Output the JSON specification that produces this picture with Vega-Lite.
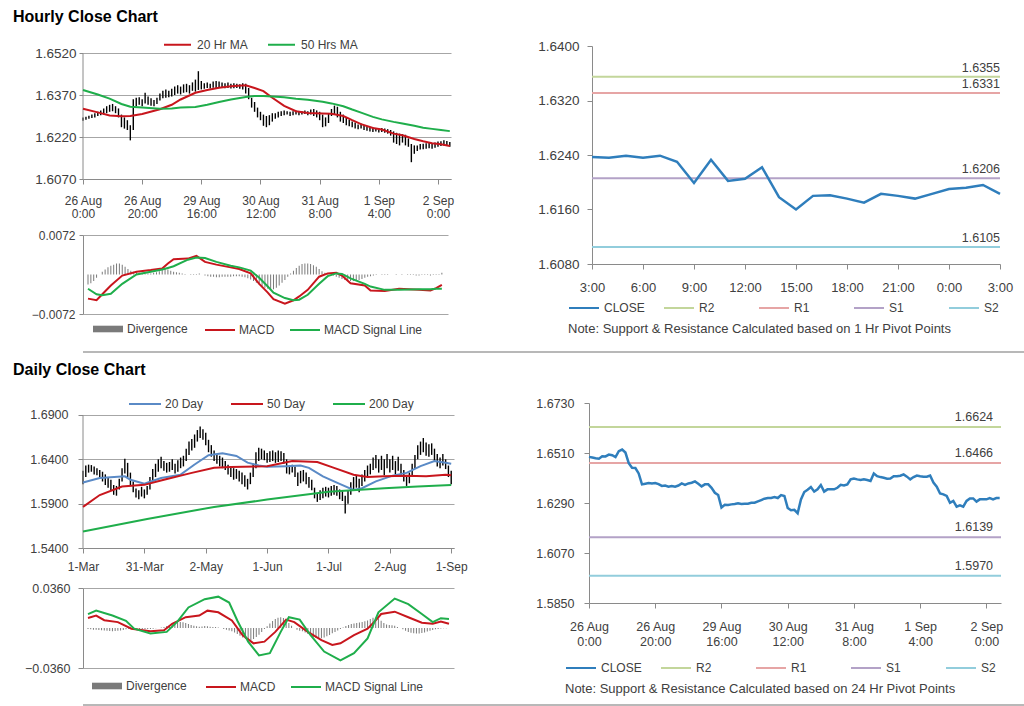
{
"$schema": "https://vega.github.io/schema/vega-lite/v6.json",
"padding": {"left": 0, "top": 9, "right": 0, "bottom": 0},
"background": "white",
"config": {
  "font": "Liberation Sans",
  "view": {"stroke": null},
  "axis": {"labelFont": "Liberation Sans", "labelFontSize": 12, "labelColor": "#404040", "domainColor": "#8a8a8a", "tickColor": "#8a8a8a", "gridColor": "#a6a6a6", "labelFlush": false, "labelOverlap": false, "tickSize": 5, "grid": false},
  "legend": {"labelFont": "Liberation Sans", "labelFontSize": 12, "labelColor": "#404040", "symbolType": "stroke", "symbolStrokeWidth": 2, "padding": 0, "titleFont": "Liberation Sans"},
  "title": {"font": "Liberation Sans"}
},
"datasets": {
"hbars": [
{"h":0,"lo":1.6278,"hi":1.6290},{"h":1,"lo":1.6282,"hi":1.6292},{"h":2,"lo":1.6285,"hi":1.6296},{"h":3,"lo":1.6288,"hi":1.6300},{"h":4,"lo":1.6290,"hi":1.6305},
{"h":5,"lo":1.6295,"hi":1.6310},{"h":6,"lo":1.6298,"hi":1.6315},{"h":7,"lo":1.6300,"hi":1.6322},{"h":8,"lo":1.6305,"hi":1.6330},{"h":9,"lo":1.6310,"hi":1.6335},
{"h":10,"lo":1.6312,"hi":1.6338},{"h":11,"lo":1.6305,"hi":1.6330},{"h":12,"lo":1.6290,"hi":1.6322},{"h":13,"lo":1.6255,"hi":1.6300},{"h":14,"lo":1.6250,"hi":1.6290},
{"h":15,"lo":1.6245,"hi":1.6280},{"h":16,"lo":1.6208,"hi":1.6262},{"h":17,"lo":1.6245,"hi":1.6355},{"h":18,"lo":1.6330,"hi":1.6360},{"h":19,"lo":1.6335,"hi":1.6362},
{"h":20,"lo":1.6330,"hi":1.6355},{"h":21,"lo":1.6340,"hi":1.6378},{"h":22,"lo":1.6335,"hi":1.6365},{"h":23,"lo":1.6332,"hi":1.6358},{"h":24,"lo":1.6330,"hi":1.6352},
{"h":25,"lo":1.6338,"hi":1.6360},{"h":26,"lo":1.6350,"hi":1.6375},{"h":27,"lo":1.6358,"hi":1.6385},{"h":28,"lo":1.6360,"hi":1.6390},{"h":29,"lo":1.6362,"hi":1.6385},
{"h":30,"lo":1.6365,"hi":1.6392},{"h":31,"lo":1.6370,"hi":1.6400},{"h":32,"lo":1.6375,"hi":1.6405},{"h":33,"lo":1.6372,"hi":1.6400},{"h":34,"lo":1.6378,"hi":1.6408},
{"h":35,"lo":1.6380,"hi":1.6410},{"h":36,"lo":1.6375,"hi":1.6405},{"h":37,"lo":1.6385,"hi":1.6415},{"h":38,"lo":1.6382,"hi":1.6425},{"h":39,"lo":1.6388,"hi":1.6455},
{"h":40,"lo":1.6390,"hi":1.6420},{"h":41,"lo":1.6392,"hi":1.6412},{"h":42,"lo":1.6395,"hi":1.6415},{"h":43,"lo":1.6393,"hi":1.6410},{"h":44,"lo":1.6396,"hi":1.6418},
{"h":45,"lo":1.6395,"hi":1.6420},{"h":46,"lo":1.6398,"hi":1.6418},{"h":47,"lo":1.6396,"hi":1.6415},{"h":48,"lo":1.6394,"hi":1.6412},{"h":49,"lo":1.6395,"hi":1.6415},
{"h":50,"lo":1.6393,"hi":1.6410},{"h":51,"lo":1.6394,"hi":1.6412},{"h":52,"lo":1.6395,"hi":1.6410},{"h":53,"lo":1.6392,"hi":1.6408},{"h":54,"lo":1.6390,"hi":1.6412},
{"h":55,"lo":1.6375,"hi":1.6410},{"h":56,"lo":1.6355,"hi":1.6395},{"h":57,"lo":1.6325,"hi":1.6360},{"h":58,"lo":1.6310,"hi":1.6345},{"h":59,"lo":1.6290,"hi":1.6325},
{"h":60,"lo":1.6280,"hi":1.6310},{"h":61,"lo":1.6260,"hi":1.6300},{"h":62,"lo":1.6255,"hi":1.6295},{"h":63,"lo":1.6262,"hi":1.6298},{"h":64,"lo":1.6275,"hi":1.6305},
{"h":65,"lo":1.6285,"hi":1.6305},{"h":66,"lo":1.6290,"hi":1.6310},{"h":67,"lo":1.6295,"hi":1.6312},{"h":68,"lo":1.6298,"hi":1.6315},{"h":69,"lo":1.6300,"hi":1.6312},
{"h":70,"lo":1.6295,"hi":1.6310},{"h":71,"lo":1.6298,"hi":1.6312},{"h":72,"lo":1.6300,"hi":1.6315},{"h":73,"lo":1.6298,"hi":1.6310},{"h":74,"lo":1.6300,"hi":1.6312},
{"h":75,"lo":1.6302,"hi":1.6315},{"h":76,"lo":1.6298,"hi":1.6312},{"h":77,"lo":1.6300,"hi":1.6318},{"h":78,"lo":1.6295,"hi":1.6320},{"h":79,"lo":1.6290,"hi":1.6315},
{"h":80,"lo":1.6280,"hi":1.6310},{"h":81,"lo":1.6255,"hi":1.6300},{"h":82,"lo":1.6258,"hi":1.6290},{"h":83,"lo":1.6270,"hi":1.6305},{"h":84,"lo":1.6295,"hi":1.6320},
{"h":85,"lo":1.6300,"hi":1.6332},{"h":86,"lo":1.6290,"hi":1.6328},{"h":87,"lo":1.6275,"hi":1.6310},{"h":88,"lo":1.6270,"hi":1.6300},{"h":89,"lo":1.6262,"hi":1.6290},
{"h":90,"lo":1.6258,"hi":1.6282},{"h":91,"lo":1.6255,"hi":1.6275},{"h":92,"lo":1.6250,"hi":1.6272},{"h":93,"lo":1.6248,"hi":1.6265},{"h":94,"lo":1.6250,"hi":1.6268},
{"h":95,"lo":1.6245,"hi":1.6262},{"h":96,"lo":1.6242,"hi":1.6258},{"h":97,"lo":1.6240,"hi":1.6255},{"h":98,"lo":1.6238,"hi":1.6255},{"h":99,"lo":1.6240,"hi":1.6252},
{"h":100,"lo":1.6236,"hi":1.6250},{"h":101,"lo":1.6238,"hi":1.6252},{"h":102,"lo":1.6235,"hi":1.6250},{"h":103,"lo":1.6232,"hi":1.6248},{"h":104,"lo":1.6225,"hi":1.6245},
{"h":105,"lo":1.6200,"hi":1.6240},{"h":106,"lo":1.6195,"hi":1.6235},{"h":107,"lo":1.6190,"hi":1.6232},{"h":108,"lo":1.6200,"hi":1.6230},{"h":109,"lo":1.6190,"hi":1.6228},
{"h":110,"lo":1.6185,"hi":1.6215},{"h":111,"lo":1.6130,"hi":1.6195},{"h":112,"lo":1.6160,"hi":1.6190},{"h":113,"lo":1.6170,"hi":1.6190},{"h":114,"lo":1.6175,"hi":1.6195},
{"h":115,"lo":1.6176,"hi":1.6196},{"h":116,"lo":1.6178,"hi":1.6198},{"h":117,"lo":1.6180,"hi":1.6200},{"h":118,"lo":1.6178,"hi":1.6198},{"h":119,"lo":1.6182,"hi":1.6200},
{"h":120,"lo":1.6185,"hi":1.6204},{"h":121,"lo":1.6188,"hi":1.6205},{"h":122,"lo":1.6190,"hi":1.6208},{"h":123,"lo":1.6188,"hi":1.6206},{"h":124,"lo":1.6185,"hi":1.6202}
],
"hma": [
{"h":0,"20 Hr MA":1.6321,"50 Hrs MA":1.6388},{"h":5,"20 Hr MA":1.6308,"50 Hrs MA":1.6372},{"h":9,"20 Hr MA":1.6297,"50 Hrs MA":1.6357},
{"h":13,"20 Hr MA":1.6294,"50 Hrs MA":1.6338},{"h":16,"20 Hr MA":1.6295,"50 Hrs MA":1.6328},{"h":20,"20 Hr MA":1.6302,"50 Hrs MA":1.6325},
{"h":26,"20 Hr MA":1.6319,"50 Hrs MA":1.6321},{"h":30,"20 Hr MA":1.6335,"50 Hrs MA":1.6322},{"h":33,"20 Hr MA":1.6354,"50 Hrs MA":1.6325},
{"h":38,"20 Hr MA":1.6378,"50 Hrs MA":1.6327},{"h":42,"20 Hr MA":1.6388,"50 Hrs MA":1.6335},{"h":46,"20 Hr MA":1.6396,"50 Hrs MA":1.6345},
{"h":50,"20 Hr MA":1.6401,"50 Hrs MA":1.6354},{"h":55,"20 Hr MA":1.6405,"50 Hrs MA":1.6363},{"h":58,"20 Hr MA":1.6395,"50 Hrs MA":1.6366},
{"h":61,"20 Hr MA":1.6384,"50 Hrs MA":1.6366},{"h":64,"20 Hr MA":1.6360,"50 Hrs MA":1.6365},{"h":68,"20 Hr MA":1.6331,"50 Hrs MA":1.6362},
{"h":72,"20 Hr MA":1.6312,"50 Hrs MA":1.6357},{"h":76,"20 Hr MA":1.6306,"50 Hrs MA":1.6353},{"h":81,"20 Hr MA":1.6304,"50 Hrs MA":1.6346},
{"h":84,"20 Hr MA":1.6303,"50 Hrs MA":1.6340},{"h":88,"20 Hr MA":1.6295,"50 Hrs MA":1.6330},{"h":91,"20 Hr MA":1.6280,"50 Hrs MA":1.6318},
{"h":94,"20 Hr MA":1.6266,"50 Hrs MA":1.6307},{"h":98,"20 Hr MA":1.6252,"50 Hrs MA":1.6292},{"h":101,"20 Hr MA":1.6247,"50 Hrs MA":1.6283},
{"h":105,"20 Hr MA":1.6232,"50 Hrs MA":1.6274},{"h":108,"20 Hr MA":1.6226,"50 Hrs MA":1.6268},{"h":112,"20 Hr MA":1.6213,"50 Hrs MA":1.6260},
{"h":115,"20 Hr MA":1.6205,"50 Hrs MA":1.6253},{"h":118,"20 Hr MA":1.6198,"50 Hrs MA":1.6249},{"h":121,"20 Hr MA":1.6194,"50 Hrs MA":1.6245},
{"h":124,"20 Hr MA":1.6188,"50 Hrs MA":1.6241}
],
"hmacd": [
{"h":0,"MACD":-0.0044,"MACD Signal Line":-0.0026},{"h":3,"MACD":-0.0047,"MACD Signal Line":-0.0036},{"h":5,"MACD":-0.0036,"MACD Signal Line":-0.0038},
{"h":8,"MACD":-0.0020,"MACD Signal Line":-0.0035},{"h":12,"MACD":-0.0002,"MACD Signal Line":-0.0017},{"h":17,"MACD":0.0005,"MACD Signal Line":0.0000},
{"h":22,"MACD":0.0008,"MACD Signal Line":0.0005},{"h":26,"MACD":0.0011,"MACD Signal Line":0.0009},{"h":28,"MACD":0.0020,"MACD Signal Line":0.0012},
{"h":30,"MACD":0.0028,"MACD Signal Line":0.0015},{"h":35,"MACD":0.0029,"MACD Signal Line":0.0027},{"h":38,"MACD":0.0034,"MACD Signal Line":0.0031},
{"h":41,"MACD":0.0023,"MACD Signal Line":0.0030},{"h":45,"MACD":0.0018,"MACD Signal Line":0.0023},{"h":50,"MACD":0.0013,"MACD Signal Line":0.0016},
{"h":53,"MACD":0.0010,"MACD Signal Line":0.0013},{"h":57,"MACD":0.0002,"MACD Signal Line":0.0007},{"h":60,"MACD":-0.0017,"MACD Signal Line":-0.0006},
{"h":63,"MACD":-0.0033,"MACD Signal Line":-0.0022},{"h":65,"MACD":-0.0045,"MACD Signal Line":-0.0033},{"h":69,"MACD":-0.0053,"MACD Signal Line":-0.0043},
{"h":72,"MACD":-0.0047,"MACD Signal Line":-0.0047},{"h":74,"MACD":-0.0040,"MACD Signal Line":-0.0046},{"h":77,"MACD":-0.0028,"MACD Signal Line":-0.0037},
{"h":81,"MACD":-0.0004,"MACD Signal Line":-0.0017},{"h":84,"MACD":0.0002,"MACD Signal Line":-0.0003},{"h":87,"MACD":0.0003,"MACD Signal Line":0.0002},
{"h":89,"MACD":-0.0002,"MACD Signal Line":0.0001},{"h":92,"MACD":-0.0016,"MACD Signal Line":-0.0007},{"h":97,"MACD":-0.0020,"MACD Signal Line":-0.0017},
{"h":99,"MACD":-0.0029,"MACD Signal Line":-0.0022},{"h":104,"MACD":-0.0030,"MACD Signal Line":-0.0028},{"h":109,"MACD":-0.0026,"MACD Signal Line":-0.0028},
{"h":116,"MACD":-0.0028,"MACD Signal Line":-0.0027},{"h":120,"MACD":-0.0029,"MACD Signal Line":-0.0027},{"h":122,"MACD":-0.0025,"MACD Signal Line":-0.0026},
{"h":124,"MACD":-0.0019,"MACD Signal Line":-0.0026}
],
"hdiv": [
{"h":0,"d":-0.0018},{"h":1,"d":-0.0016},{"h":2,"d":-0.0012},{"h":3,"d":-0.0006},{"h":4,"d":0.0000},{"h":5,"d":0.0005},{"h":6,"d":0.0009},{"h":7,"d":0.0013},{"h":8,"d":0.0016},{"h":9,"d":0.0018},
{"h":10,"d":0.0020},{"h":11,"d":0.0020},{"h":12,"d":0.0018},{"h":13,"d":0.0014},{"h":14,"d":0.0010},{"h":15,"d":0.0007},{"h":16,"d":0.0005},{"h":17,"d":0.0004},{"h":18,"d":0.0003},{"h":19,"d":0.0003},
{"h":20,"d":0.0002},{"h":21,"d":0.0002},{"h":22,"d":0.0002},{"h":23,"d":0.0003},{"h":24,"d":0.0004},{"h":25,"d":0.0006},{"h":26,"d":0.0008},{"h":27,"d":0.0010},{"h":28,"d":0.0009},{"h":29,"d":0.0007},
{"h":30,"d":0.0005},{"h":31,"d":0.0004},{"h":32,"d":0.0003},{"h":33,"d":0.0002},{"h":34,"d":0.0001},{"h":35,"d":0.0000},{"h":36,"d":0.0001},{"h":37,"d":0.0001},{"h":38,"d":0.0001},{"h":39,"d":0.0002},
{"h":40,"d":0.0000},{"h":41,"d":-0.0002},{"h":42,"d":-0.0003},{"h":43,"d":-0.0004},{"h":44,"d":-0.0004},{"h":45,"d":-0.0005},{"h":46,"d":-0.0005},{"h":47,"d":-0.0004},{"h":48,"d":-0.0004},{"h":49,"d":-0.0004},
{"h":50,"d":-0.0004},{"h":51,"d":-0.0003},{"h":52,"d":-0.0003},{"h":53,"d":-0.0003},{"h":54,"d":-0.0004},{"h":55,"d":-0.0005},{"h":56,"d":-0.0007},{"h":57,"d":-0.0009},{"h":58,"d":-0.0012},{"h":59,"d":-0.0015},
{"h":60,"d":-0.0018},{"h":61,"d":-0.0021},{"h":62,"d":-0.0024},{"h":63,"d":-0.0026},{"h":64,"d":-0.0028},{"h":65,"d":-0.0027},{"h":66,"d":-0.0024},{"h":67,"d":-0.0020},{"h":68,"d":-0.0015},{"h":69,"d":-0.0010},
{"h":70,"d":-0.0004},{"h":71,"d":0.0002},{"h":72,"d":0.0007},{"h":73,"d":0.0012},{"h":74,"d":0.0016},{"h":75,"d":0.0019},{"h":76,"d":0.0020},{"h":77,"d":0.0020},{"h":78,"d":0.0019},{"h":79,"d":0.0017},
{"h":80,"d":0.0014},{"h":81,"d":0.0010},{"h":82,"d":0.0006},{"h":83,"d":0.0003},{"h":84,"d":0.0001},{"h":85,"d":0.0000},{"h":86,"d":-0.0002},{"h":87,"d":-0.0004},{"h":88,"d":-0.0006},{"h":89,"d":-0.0008},
{"h":90,"d":-0.0010},{"h":91,"d":-0.0011},{"h":92,"d":-0.0012},{"h":93,"d":-0.0012},{"h":94,"d":-0.0011},{"h":95,"d":-0.0010},{"h":96,"d":-0.0008},{"h":97,"d":-0.0006},{"h":98,"d":-0.0004},{"h":99,"d":-0.0003},
{"h":100,"d":-0.0002},{"h":101,"d":-0.0001},{"h":102,"d":0.0000},{"h":103,"d":0.0001},{"h":104,"d":0.0001},{"h":105,"d":0.0001},{"h":106,"d":0.0000},{"h":107,"d":0.0000},{"h":108,"d":-0.0001},{"h":109,"d":0.0000},
{"h":110,"d":0.0001},{"h":111,"d":0.0000},{"h":112,"d":-0.0001},{"h":113,"d":-0.0001},{"h":114,"d":-0.0001},{"h":115,"d":-0.0002},{"h":116,"d":-0.0002},{"h":117,"d":-0.0001},{"h":118,"d":-0.0001},{"h":119,"d":-0.0001},
{"h":120,"d":-0.0002},{"h":121,"d":-0.0001},{"h":122,"d":-0.0001},{"h":123,"d":0.0001},{"h":124,"d":0.0003}
],
"rh": [
{"h":0,"c":1.6237},{"h":1,"c":1.6236},{"h":2,"c":1.6239},{"h":3,"c":1.6236},{"h":4,"c":1.6239},{"h":5,"c":1.6230},{"h":6,"c":1.6199},{"h":7,"c":1.6233},{"h":8,"c":1.6202},
{"h":9,"c":1.6205},{"h":10,"c":1.6222},{"h":11,"c":1.6178},{"h":12,"c":1.6160},{"h":13,"c":1.6180},{"h":14,"c":1.6181},{"h":15,"c":1.6176},{"h":16,"c":1.6170},
{"h":17,"c":1.6183},{"h":18,"c":1.6180},{"h":19,"c":1.6176},{"h":20,"c":1.6183},{"h":21,"c":1.6190},{"h":22,"c":1.6192},{"h":23,"c":1.6196},{"h":24,"c":1.6183}
],
"rhlev": [{"s":"R2","v":1.6355},{"s":"R1","v":1.6331},{"s":"S1","v":1.6206},{"s":"S2","v":1.6105}],
"rd": [
{"h":0,"c":1.6493},{"h":1,"c":1.6490},{"h":2,"c":1.6487},{"h":3,"c":1.6485},{"h":4,"c":1.6496},{"h":5,"c":1.6495},{"h":6,"c":1.6503},{"h":7,"c":1.6500},{"h":8,"c":1.6492},{"h":9,"c":1.6518},
{"h":10,"c":1.6525},{"h":11,"c":1.6512},{"h":12,"c":1.6465},{"h":13,"c":1.6445},{"h":14,"c":1.6444},{"h":15,"c":1.6420},{"h":16,"c":1.6372},{"h":17,"c":1.6375},{"h":18,"c":1.6378},{"h":19,"c":1.6376},
{"h":20,"c":1.6378},{"h":21,"c":1.6373},{"h":22,"c":1.6365},{"h":23,"c":1.6367},{"h":24,"c":1.6362},{"h":25,"c":1.6365},{"h":26,"c":1.6362},{"h":27,"c":1.6367},{"h":28,"c":1.6376},{"h":29,"c":1.6370},
{"h":30,"c":1.6376},{"h":31,"c":1.6379},{"h":32,"c":1.6385},{"h":33,"c":1.6375},{"h":34,"c":1.6363},{"h":35,"c":1.6372},{"h":36,"c":1.6372},{"h":37,"c":1.6357},{"h":38,"c":1.6335},{"h":39,"c":1.6325},
{"h":40,"c":1.6270},{"h":41,"c":1.6282},{"h":42,"c":1.6281},{"h":43,"c":1.6284},{"h":44,"c":1.6286},{"h":45,"c":1.6289},{"h":46,"c":1.6286},{"h":47,"c":1.6287},{"h":48,"c":1.6287},{"h":49,"c":1.6291},
{"h":50,"c":1.6291},{"h":51,"c":1.6297},{"h":52,"c":1.6303},{"h":53,"c":1.6309},{"h":54,"c":1.6312},{"h":55,"c":1.6312},{"h":56,"c":1.6316},{"h":57,"c":1.6312},{"h":58,"c":1.6325},{"h":59,"c":1.6321},
{"h":60,"c":1.6268},{"h":61,"c":1.6258},{"h":62,"c":1.6260},{"h":63,"c":1.6245},{"h":64,"c":1.6306},{"h":65,"c":1.6338},{"h":66,"c":1.6348},{"h":67,"c":1.6360},{"h":68,"c":1.6340},{"h":69,"c":1.6350},
{"h":70,"c":1.6369},{"h":71,"c":1.6340},{"h":72,"c":1.6350},{"h":73,"c":1.6350},{"h":74,"c":1.6350},{"h":75,"c":1.6357},{"h":76,"c":1.6370},{"h":77,"c":1.6367},{"h":78,"c":1.6372},{"h":79,"c":1.6394},
{"h":80,"c":1.6398},{"h":81,"c":1.6394},{"h":82,"c":1.6391},{"h":83,"c":1.6394},{"h":84,"c":1.6391},{"h":85,"c":1.6387},{"h":86,"c":1.6420},{"h":87,"c":1.6408},{"h":88,"c":1.6404},{"h":89,"c":1.6401},
{"h":90,"c":1.6397},{"h":91,"c":1.6398},{"h":92,"c":1.6408},{"h":93,"c":1.6408},{"h":94,"c":1.6410},{"h":95,"c":1.6416},{"h":96,"c":1.6406},{"h":97,"c":1.6394},{"h":98,"c":1.6404},{"h":99,"c":1.6411},
{"h":100,"c":1.6408},{"h":101,"c":1.6406},{"h":102,"c":1.6406},{"h":103,"c":1.6411},{"h":104,"c":1.6380},{"h":105,"c":1.6362},{"h":106,"c":1.6332},{"h":107,"c":1.6328},{"h":108,"c":1.6321},{"h":109,"c":1.6291},
{"h":110,"c":1.6299},{"h":111,"c":1.6274},{"h":112,"c":1.6280},{"h":113,"c":1.6274},{"h":114,"c":1.6299},{"h":115,"c":1.6310},{"h":116,"c":1.6310},{"h":117,"c":1.6296},{"h":118,"c":1.6306},{"h":119,"c":1.6306},
{"h":120,"c":1.6306},{"h":121,"c":1.6312},{"h":122,"c":1.6306},{"h":123,"c":1.6312},{"h":124,"c":1.6312}
],
"rdlev": [{"s":"R2","v":1.6624},{"s":"R1","v":1.6466},{"s":"S1","v":1.6139},{"s":"S2","v":1.5970}],
"dbars": [
{"i":0,"lo":1.6120,"hi":1.6270},{"i":1,"lo":1.6200,"hi":1.6330},{"i":2,"lo":1.6250,"hi":1.6340},{"i":3,"lo":1.6260,"hi":1.6335},{"i":4,"lo":1.6230,"hi":1.6320},
{"i":5,"lo":1.6220,"hi":1.6300},{"i":6,"lo":1.6200,"hi":1.6280},{"i":7,"lo":1.6150,"hi":1.6260},{"i":8,"lo":1.6110,"hi":1.6230},{"i":9,"lo":1.6080,"hi":1.6200},
{"i":10,"lo":1.6050,"hi":1.6170},{"i":11,"lo":1.6000,"hi":1.6110},{"i":12,"lo":1.5990,"hi":1.6100},{"i":13,"lo":1.6060,"hi":1.6180},{"i":14,"lo":1.6150,"hi":1.6300},
{"i":15,"lo":1.6240,"hi":1.6405},{"i":16,"lo":1.6200,"hi":1.6360},{"i":17,"lo":1.6110,"hi":1.6250},{"i":18,"lo":1.6030,"hi":1.6150},{"i":19,"lo":1.5970,"hi":1.6070},
{"i":20,"lo":1.5950,"hi":1.6050},{"i":21,"lo":1.5980,"hi":1.6090},{"i":22,"lo":1.5960,"hi":1.6060},{"i":23,"lo":1.6000,"hi":1.6100},{"i":24,"lo":1.6060,"hi":1.6200},
{"i":25,"lo":1.6150,"hi":1.6290},{"i":26,"lo":1.6200,"hi":1.6350},{"i":27,"lo":1.6260,"hi":1.6400},{"i":28,"lo":1.6300,"hi":1.6430},{"i":29,"lo":1.6270,"hi":1.6380},
{"i":30,"lo":1.6250,"hi":1.6360},{"i":31,"lo":1.6260,"hi":1.6370},{"i":32,"lo":1.6280,"hi":1.6400},{"i":33,"lo":1.6240,"hi":1.6350},{"i":34,"lo":1.6260,"hi":1.6390},
{"i":35,"lo":1.6300,"hi":1.6420},{"i":36,"lo":1.6320,"hi":1.6440},{"i":37,"lo":1.6380,"hi":1.6520},{"i":38,"lo":1.6450,"hi":1.6600},{"i":39,"lo":1.6500,"hi":1.6630},
{"i":40,"lo":1.6530,"hi":1.6680},{"i":41,"lo":1.6600,"hi":1.6730},{"i":42,"lo":1.6640,"hi":1.6770},{"i":43,"lo":1.6620,"hi":1.6740},{"i":44,"lo":1.6560,"hi":1.6700},
{"i":45,"lo":1.6480,"hi":1.6620},{"i":46,"lo":1.6430,"hi":1.6560},{"i":47,"lo":1.6380,"hi":1.6500},{"i":48,"lo":1.6350,"hi":1.6460},{"i":49,"lo":1.6320,"hi":1.6440},
{"i":50,"lo":1.6300,"hi":1.6420},{"i":51,"lo":1.6280,"hi":1.6380},{"i":52,"lo":1.6230,"hi":1.6340},{"i":53,"lo":1.6200,"hi":1.6320},{"i":54,"lo":1.6170,"hi":1.6300},
{"i":55,"lo":1.6180,"hi":1.6290},{"i":56,"lo":1.6150,"hi":1.6270},{"i":57,"lo":1.6120,"hi":1.6250},{"i":58,"lo":1.6090,"hi":1.6220},{"i":59,"lo":1.6060,"hi":1.6180},
{"i":60,"lo":1.6120,"hi":1.6250},{"i":61,"lo":1.6200,"hi":1.6350},{"i":62,"lo":1.6300,"hi":1.6480},{"i":63,"lo":1.6380,"hi":1.6530},{"i":64,"lo":1.6400,"hi":1.6520},
{"i":65,"lo":1.6390,"hi":1.6500},{"i":66,"lo":1.6360,"hi":1.6470},{"i":67,"lo":1.6370,"hi":1.6490},{"i":68,"lo":1.6380,"hi":1.6500},{"i":69,"lo":1.6360,"hi":1.6480},
{"i":70,"lo":1.6370,"hi":1.6500},{"i":71,"lo":1.6380,"hi":1.6490},{"i":72,"lo":1.6350,"hi":1.6470},{"i":73,"lo":1.6240,"hi":1.6400},{"i":74,"lo":1.6230,"hi":1.6330},
{"i":75,"lo":1.6250,"hi":1.6340},{"i":76,"lo":1.6200,"hi":1.6320},{"i":77,"lo":1.6100,"hi":1.6250},{"i":78,"lo":1.6130,"hi":1.6270},{"i":79,"lo":1.6150,"hi":1.6280},
{"i":80,"lo":1.6120,"hi":1.6250},{"i":81,"lo":1.6080,"hi":1.6200},{"i":82,"lo":1.6050,"hi":1.6170},{"i":83,"lo":1.5960,"hi":1.6080},{"i":84,"lo":1.5920,"hi":1.6020},
{"i":85,"lo":1.5940,"hi":1.6050},{"i":86,"lo":1.5960,"hi":1.6080},{"i":87,"lo":1.5980,"hi":1.6090},{"i":88,"lo":1.5970,"hi":1.6080},{"i":89,"lo":1.5990,"hi":1.6100},
{"i":90,"lo":1.6000,"hi":1.6110},{"i":91,"lo":1.5990,"hi":1.6100},{"i":92,"lo":1.5950,"hi":1.6060},{"i":93,"lo":1.5930,"hi":1.6050},{"i":94,"lo":1.5790,"hi":1.5990},
{"i":95,"lo":1.5900,"hi":1.6050},{"i":96,"lo":1.6000,"hi":1.6140},{"i":97,"lo":1.6050,"hi":1.6200},{"i":98,"lo":1.6080,"hi":1.6220},{"i":99,"lo":1.6030,"hi":1.6180},
{"i":100,"lo":1.6100,"hi":1.6230},{"i":101,"lo":1.6150,"hi":1.6280},{"i":102,"lo":1.6200,"hi":1.6330},{"i":103,"lo":1.6230,"hi":1.6350},{"i":104,"lo":1.6280,"hi":1.6420},
{"i":105,"lo":1.6300,"hi":1.6450},{"i":106,"lo":1.6250,"hi":1.6400},{"i":107,"lo":1.6280,"hi":1.6440},{"i":108,"lo":1.6220,"hi":1.6400},{"i":109,"lo":1.6300,"hi":1.6460},
{"i":110,"lo":1.6250,"hi":1.6400},{"i":111,"lo":1.6280,"hi":1.6440},{"i":112,"lo":1.6230,"hi":1.6380},{"i":113,"lo":1.6270,"hi":1.6430},{"i":114,"lo":1.6200,"hi":1.6350},
{"i":115,"lo":1.6150,"hi":1.6280},{"i":116,"lo":1.6100,"hi":1.6220},{"i":117,"lo":1.6130,"hi":1.6250},{"i":118,"lo":1.6220,"hi":1.6350},{"i":119,"lo":1.6300,"hi":1.6450},
{"i":120,"lo":1.6400,"hi":1.6560},{"i":121,"lo":1.6450,"hi":1.6600},{"i":122,"lo":1.6480,"hi":1.6640},{"i":123,"lo":1.6440,"hi":1.6590},{"i":124,"lo":1.6430,"hi":1.6570},
{"i":125,"lo":1.6450,"hi":1.6580},{"i":126,"lo":1.6380,"hi":1.6520},{"i":127,"lo":1.6320,"hi":1.6460},{"i":128,"lo":1.6300,"hi":1.6420},{"i":129,"lo":1.6330,"hi":1.6460},
{"i":130,"lo":1.6290,"hi":1.6400},{"i":131,"lo":1.6200,"hi":1.6330},{"i":132,"lo":1.6120,"hi":1.6270}
],
"dma": [
{"i":0,"20 Day":1.6139,"50 Day":1.5863,"200 Day":1.5587},{"i":6,"20 Day":1.6189,"50 Day":1.5997},{"i":14,"50 Day":1.6093},{"i":15,"20 Day":1.6208},
{"i":17,"20 Day":1.6170},{"i":22,"20 Day":1.6124,"50 Day":1.6112},{"i":23,"200 Day":1.5728},{"i":28,"20 Day":1.6189},{"i":29,"50 Day":1.6170},
{"i":35,"20 Day":1.6227},{"i":39,"50 Day":1.6247},{"i":40,"20 Day":1.6342},{"i":45,"20 Day":1.6446},{"i":47,"50 Day":1.6304,"200 Day":1.5863},
{"i":50,"20 Day":1.6469},{"i":53,"50 Day":1.6312},{"i":55,"20 Day":1.6438},{"i":59,"20 Day":1.6362},{"i":63,"20 Day":1.6331},
{"i":66,"20 Day":1.6316,"50 Day":1.6323,"200 Day":1.5946},{"i":73,"20 Day":1.6323},{"i":75,"50 Day":1.6381},{"i":78,"20 Day":1.6331},{"i":81,"20 Day":1.6304},
{"i":84,"50 Day":1.6369},{"i":86,"20 Day":1.6208},{"i":88,"200 Day":1.6033},{"i":90,"50 Day":1.6304},{"i":92,"20 Day":1.6124},
{"i":97,"20 Day":1.6055,"50 Day":1.6227},{"i":100,"20 Day":1.6074},{"i":102,"50 Day":1.6200},{"i":105,"20 Day":1.6151},{"i":108,"50 Day":1.6208,"200 Day":1.6074},
{"i":111,"20 Day":1.6216},{"i":116,"20 Day":1.6247,"50 Day":1.6216},{"i":120,"200 Day":1.6093},{"i":121,"20 Day":1.6323},{"i":123,"50 Day":1.6208},
{"i":126,"20 Day":1.6381},{"i":130,"20 Day":1.6362,"50 Day":1.6227},{"i":132,"20 Day":1.6350,"50 Day":1.6220,"200 Day":1.6110}
],
"dmacd": [
{"i":0,"MACD":0.0090,"MACD Signal Line":0.0125},{"i":3,"MACD":0.0112,"MACD Signal Line":0.0156},{"i":6,"MACD":0.0070},{"i":9,"MACD Signal Line":0.0112},
{"i":11,"MACD":0.0053},{"i":14,"MACD Signal Line":0.0065},{"i":16,"MACD":-0.0006},{"i":17,"MACD Signal Line":-0.0006},{"i":23,"MACD":-0.0029,"MACD Signal Line":-0.0050},
{"i":28,"MACD":-0.0021},{"i":29,"MACD Signal Line":-0.0035},{"i":31,"MACD":0.0038},{"i":33,"MACD Signal Line":0.0059},{"i":36,"MACD":0.0097},
{"i":37,"MACD Signal Line":0.0185},{"i":41,"MACD":0.0112},{"i":43,"MACD Signal Line":0.0259},{"i":44,"MACD":0.0156},{"i":48,"MACD":0.0141,"MACD Signal Line":0.0282},
{"i":52,"MACD Signal Line":0.0229},{"i":53,"MACD":0.0068},{"i":55,"MACD Signal Line":0.0068},{"i":57,"MACD":-0.0065},{"i":59,"MACD Signal Line":-0.0123},
{"i":61,"MACD":-0.0138},{"i":63,"MACD Signal Line":-0.0247},{"i":65,"MACD":-0.0123},{"i":67,"MACD Signal Line":-0.0226},{"i":69,"MACD":-0.0035},
{"i":71,"MACD Signal Line":-0.0035},{"i":73,"MACD":0.0076},{"i":74,"MACD Signal Line":0.0097},{"i":76,"MACD":0.0053},{"i":78,"MACD Signal Line":0.0076},
{"i":81,"MACD":-0.0035},{"i":82,"MACD Signal Line":-0.0065},{"i":86,"MACD":-0.0109},{"i":87,"MACD Signal Line":-0.0212},{"i":90,"MACD":-0.0153},
{"i":93,"MACD":-0.0138,"MACD Signal Line":-0.0291},{"i":98,"MACD":-0.0065,"MACD Signal Line":-0.0226},{"i":103,"MACD":-0.0006,"MACD Signal Line":-0.0094},
{"i":106,"MACD":0.0068},{"i":107,"MACD Signal Line":0.0141},{"i":108,"MACD":0.0126},{"i":113,"MACD":0.0147,"MACD Signal Line":0.0265},
{"i":118,"MACD":0.0097,"MACD Signal Line":0.0215},{"i":123,"MACD":0.0047,"MACD Signal Line":0.0126},{"i":127,"MACD":0.0038,"MACD Signal Line":0.0053},
{"i":130,"MACD":0.0059,"MACD Signal Line":0.0088},{"i":133,"MACD":0.0038,"MACD Signal Line":0.0082}
],
"ddiv": [
{"i":0,"d":-0.0010},{"i":1,"d":-0.0012},{"i":2,"d":-0.0015},{"i":3,"d":-0.0015},{"i":4,"d":-0.0018},{"i":5,"d":-0.0020},{"i":6,"d":-0.0022},{"i":7,"d":-0.0025},{"i":8,"d":-0.0028},{"i":9,"d":-0.0030},
{"i":10,"d":-0.0028},{"i":11,"d":-0.0025},{"i":12,"d":-0.0022},{"i":13,"d":-0.0018},{"i":14,"d":-0.0012},{"i":15,"d":-0.0008},{"i":16,"d":-0.0006},{"i":17,"d":-0.0005},{"i":18,"d":-0.0006},{"i":19,"d":-0.0008},
{"i":20,"d":-0.0010},{"i":21,"d":-0.0012},{"i":22,"d":-0.0010},{"i":23,"d":-0.0008},{"i":24,"d":-0.0006},{"i":25,"d":-0.0003},{"i":26,"d":0.0000},{"i":27,"d":0.0004},{"i":28,"d":0.0010},{"i":29,"d":0.0018},
{"i":30,"d":0.0028},{"i":31,"d":0.0038},{"i":32,"d":0.0046},{"i":33,"d":0.0052},{"i":34,"d":0.0055},{"i":35,"d":0.0052},{"i":36,"d":0.0045},{"i":37,"d":0.0035},{"i":38,"d":0.0026},{"i":39,"d":0.0020},
{"i":40,"d":0.0015},{"i":41,"d":0.0012},{"i":42,"d":0.0014},{"i":43,"d":0.0018},{"i":44,"d":0.0016},{"i":45,"d":0.0012},{"i":46,"d":0.0010},{"i":47,"d":0.0008},{"i":48,"d":0.0005},{"i":49,"d":0.0000},
{"i":50,"d":-0.0008},{"i":51,"d":-0.0015},{"i":52,"d":-0.0022},{"i":53,"d":-0.0030},{"i":54,"d":-0.0040},{"i":55,"d":-0.0055},{"i":56,"d":-0.0070},{"i":57,"d":-0.0085},{"i":58,"d":-0.0098},{"i":59,"d":-0.0108},
{"i":60,"d":-0.0110},{"i":61,"d":-0.0100},{"i":62,"d":-0.0082},{"i":63,"d":-0.0060},{"i":64,"d":-0.0035},{"i":65,"d":-0.0010},{"i":66,"d":0.0015},{"i":67,"d":0.0040},{"i":68,"d":0.0062},{"i":69,"d":0.0080},
{"i":70,"d":0.0092},{"i":71,"d":0.0097},{"i":72,"d":0.0090},{"i":73,"d":0.0070},{"i":74,"d":0.0045},{"i":75,"d":0.0020},{"i":76,"d":0.0000},{"i":77,"d":-0.0015},{"i":78,"d":-0.0025},{"i":79,"d":-0.0030},
{"i":80,"d":-0.0040},{"i":81,"d":-0.0055},{"i":82,"d":-0.0070},{"i":83,"d":-0.0082},{"i":84,"d":-0.0090},{"i":85,"d":-0.0094},{"i":86,"d":-0.0092},{"i":87,"d":-0.0085},{"i":88,"d":-0.0075},{"i":89,"d":-0.0062},
{"i":90,"d":-0.0048},{"i":91,"d":-0.0035},{"i":92,"d":-0.0022},{"i":93,"d":-0.0010},{"i":94,"d":0.0005},{"i":95,"d":0.0018},{"i":96,"d":0.0028},{"i":97,"d":0.0035},{"i":98,"d":0.0040},{"i":99,"d":0.0045},
{"i":100,"d":0.0050},{"i":101,"d":0.0055},{"i":102,"d":0.0060},{"i":103,"d":0.0068},{"i":104,"d":0.0080},{"i":105,"d":0.0092},{"i":106,"d":0.0095},{"i":107,"d":0.0085},{"i":108,"d":0.0065},{"i":109,"d":0.0045},
{"i":110,"d":0.0032},{"i":111,"d":0.0028},{"i":112,"d":0.0025},{"i":113,"d":0.0020},{"i":114,"d":0.0010},{"i":115,"d":0.0000},{"i":116,"d":-0.0012},{"i":117,"d":-0.0025},{"i":118,"d":-0.0035},{"i":119,"d":-0.0042},
{"i":120,"d":-0.0048},{"i":121,"d":-0.0050},{"i":122,"d":-0.0050},{"i":123,"d":-0.0046},{"i":124,"d":-0.0040},{"i":125,"d":-0.0032},{"i":126,"d":-0.0025},{"i":127,"d":-0.0018},{"i":128,"d":-0.0012},{"i":129,"d":-0.0008},
{"i":130,"d":-0.0005},{"i":131,"d":-0.0003},{"i":132,"d":-0.0002}
]
},
"concat": [
{
  "title": {"text": "Hourly Close Chart", "anchor": "start", "fontSize": 16, "fontWeight": "bold", "color": "#000000", "offset": 5, "dx": 13},
  "spacing": 10,
  "resolve": {"scale": {"color": "independent", "fill": "independent"}},
  "concat": [
    {
      "columns": 1,
      "spacing": 10,
      "resolve": {"scale": {"color": "independent", "fill": "independent"}},
      "concat": [
        {
          "width": 368, "height": 133,
          "layer": [
            {"data": {"name": "hbars"}, "mark": {"type": "rule", "color": "#000000", "strokeWidth": 1.4},
             "encoding": {
               "x": {"field": "h", "type": "quantitative", "title": null, "scale": {"domain": [0, 124.4], "nice": false, "zero": false},
                     "axis": {"values": [0,20,40,60,80,100,120], "labelExpr": "[['26 Aug','0:00'],['26 Aug','20:00'],['29 Aug','16:00'],['30 Aug','12:00'],['31 Aug','8:00'],['1 Sep','4:00'],['2 Sep','0:00']][round(datum.value/20)]", "labelPadding": 11, "labelLineHeight": 13}},
               "y": {"field": "lo", "type": "quantitative", "title": null, "scale": {"domain": [1.607, 1.6545], "nice": false, "zero": false},
                     "axis": {"values": [1.607,1.622,1.637,1.652], "format": ".4f", "grid": true, "domain": false, "minExtent": 83, "labelPadding": 3, "tickSize": 4, "labelFontSize": 13.5}},
               "y2": {"field": "hi"}
             }},
            {"data": {"values": [{"y0": 1.607, "y1": 1.652}]}, "mark": {"type": "rule", "color": "#8a8a8a", "strokeWidth": 1},
             "encoding": {"x": {"datum": 0, "type": "quantitative"}, "y": {"field": "y0", "type": "quantitative", "title": null}, "y2": {"field": "y1"}}},
            {"data": {"name": "hma"}, "transform": [{"fold": ["20 Hr MA", "50 Hrs MA"], "as": ["s", "v"]}, {"filter": "isValid(datum.v)"}],
             "mark": {"type": "line", "strokeWidth": 2},
             "encoding": {
               "x": {"field": "h", "type": "quantitative", "title": null},
               "y": {"field": "v", "type": "quantitative", "title": null},
               "color": {"field": "s", "type": "nominal", "scale": {"domain": ["20 Hr MA", "50 Hrs MA"], "range": ["#c8161d", "#1fae4b"]},
                 "legend": {"orient": "none", "legendX": 80, "legendY": -16, "direction": "horizontal", "title": null, "symbolSize": 729, "columnPadding": 16, "labelOffset": 5}}
             }}
          ]
        },
        {
          "width": 365, "height": 79,
          "layer": [
            {"data": {"name": "hdiv"}, "mark": {"type": "bar", "width": 1},
             "encoding": {
               "x": {"field": "h", "type": "quantitative", "title": null, "scale": {"domain": [0, 124.4], "nice": false, "zero": false}, "axis": null},
               "y": {"field": "d", "type": "quantitative", "title": null, "scale": {"domain": [-0.0072, 0.0072], "nice": false},
                     "axis": {"values": [-0.0072, 0, 0.0072], "format": ".4f", "grid": true, "gridOpacity": {"condition": {"test": "datum.value === 0", "value": 0}, "value": 1}, "minExtent": 76, "labelPadding": 4, "tickSize": 4}},
               "y2": {"datum": 0},
               "fill": {"datum": "Divergence", "type": "nominal", "scale": {"domain": ["Divergence"], "range": ["#7a7a7a"]},
                 "legend": {"orient": "none", "legendX": 10, "legendY": 79, "title": null, "symbolType": "M-1,-0.22H1V0.22H-1Z", "symbolSize": 900, "symbolStrokeWidth": 0, "labelOffset": 4}}
             }},
            {"data": {"name": "hmacd"}, "transform": [{"fold": ["MACD", "MACD Signal Line"], "as": ["s", "v"]}, {"filter": "isValid(datum.v)"}],
             "mark": {"type": "line", "strokeWidth": 2},
             "encoding": {
               "x": {"field": "h", "type": "quantitative", "title": null},
               "y": {"field": "v", "type": "quantitative", "title": null},
               "color": {"field": "s", "type": "nominal", "scale": {"domain": ["MACD", "MACD Signal Line"], "range": ["#c8161d", "#1fae4b"]},
                 "legend": {"orient": "none", "legendX": 121, "legendY": 79, "direction": "horizontal", "title": null, "symbolSize": 900, "columnPadding": 11, "labelOffset": 3}}
             }}
          ]
        }
      ]
    },
    {
      "width": 408, "height": 218,
      "layer": [
        {"data": {"name": "rhlev"}, "mark": {"type": "rule", "strokeWidth": 2},
         "encoding": {
           "y": {"field": "v", "type": "quantitative", "title": null, "scale": {"domain": [1.608, 1.640], "nice": false, "zero": false},
                 "axis": {"values": [1.608,1.616,1.624,1.632,1.640], "format": ".4f", "minExtent": 128, "labelPadding": 8, "labelFontSize": 13.5}},
           "color": {"field": "s", "type": "nominal", "scale": {"domain": ["CLOSE", "R2", "R1", "S1", "S2"], "range": ["#2f7ebc", "#c3d69b", "#e6a5a5", "#b3a2c7", "#92cddc"]},
             "legend": {"orient": "none", "legendX": -24, "legendY": 246, "direction": "horizontal", "gridAlign": "all", "columnPadding": 15, "symbolSize": 900, "labelOffset": 4,
               "title": "Note: Support & Resistance Calculated based on 1 Hr Pivot Points", "titleOrient": "bottom", "titleAnchor": "start", "titleFontWeight": "normal", "titleFontSize": 13, "titleColor": "#404040", "titlePadding": 9, "titleLimit": 600}}
         }},
        {"data": {"name": "rhlev"}, "mark": {"type": "text", "align": "right", "baseline": "bottom", "dy": -2, "fontSize": 12.5, "color": "#404040"},
         "encoding": {
           "x": {"datum": 24, "type": "quantitative"},
           "y": {"field": "v", "type": "quantitative", "title": null},
           "text": {"field": "v", "type": "quantitative", "format": ".4f"}
         }},
        {"data": {"name": "rh"}, "mark": {"type": "line", "strokeWidth": 2.5},
         "encoding": {
           "x": {"field": "h", "type": "quantitative", "title": null, "scale": {"domain": [0, 24], "nice": false, "zero": false},
                 "axis": {"values": [0,3,6,9,12,15,18,21,24], "labelExpr": "((datum.value + 3) % 24) + ':00'", "labelPadding": 12, "labelFontSize": 13}},
           "y": {"field": "c", "type": "quantitative", "title": null},
           "color": {"datum": "CLOSE", "type": "nominal"}
         }}
      ]
    }
  ]
},
{
  "width": 1024, "height": 10,
  "data": {"values": [{"a": 1}]},
  "mark": {"type": "rule", "color": "#a0a0a0", "strokeWidth": 1.5},
  "encoding": {"y": {"datum": 2, "type": "quantitative", "scale": {"domain": [0, 10]}, "axis": null}}
},
{
  "title": {"text": "Daily Close Chart", "anchor": "start", "fontSize": 16, "fontWeight": "bold", "color": "#000000", "offset": 9, "dx": 13},
  "spacing": 10,
  "resolve": {"scale": {"color": "independent", "fill": "independent"}},
  "concat": [
    {
      "columns": 1,
      "spacing": 10,
      "resolve": {"scale": {"color": "independent", "fill": "independent"}},
      "concat": [
        {
          "width": 371, "height": 145,
          "layer": [
            {"data": {"name": "dbars"}, "mark": {"type": "rule", "color": "#000000", "strokeWidth": 1.4},
             "encoding": {
               "x": {"field": "i", "type": "quantitative", "title": null, "scale": {"domain": [0, 133], "nice": false, "zero": false},
                     "axis": {"values": [0,22,44,66,88,110,132], "labelExpr": "['1-Mar','31-Mar','2-May','1-Jun','1-Jul','2-Aug','1-Sep'][round(datum.value/22)]", "labelPadding": 8}},
               "y": {"field": "lo", "type": "quantitative", "title": null, "scale": {"domain": [1.54, 1.7035], "nice": false, "zero": false},
                     "axis": {"values": [1.54,1.59,1.64,1.69], "format": ".4f", "grid": true, "domain": false, "minExtent": 83, "labelPadding": 10, "tickSize": 5, "labelFontSize": 12.5}},
               "y2": {"field": "hi"}
             }},
            {"data": {"values": [{"y0": 1.54, "y1": 1.69}]}, "mark": {"type": "rule", "color": "#8a8a8a", "strokeWidth": 1},
             "encoding": {"x": {"datum": 0, "type": "quantitative"}, "y": {"field": "y0", "type": "quantitative", "title": null}, "y2": {"field": "y1"}}},
            {"data": {"name": "dma"}, "transform": [{"fold": ["20 Day", "50 Day", "200 Day"], "as": ["s", "v"]}, {"filter": "isValid(datum.v)"}],
             "mark": {"type": "line", "strokeWidth": 2},
             "encoding": {
               "x": {"field": "i", "type": "quantitative", "title": null},
               "y": {"field": "v", "type": "quantitative", "title": null},
               "color": {"field": "s", "type": "nominal", "scale": {"domain": ["20 Day", "50 Day", "200 Day"], "range": ["#5a8ac6", "#c8161d", "#1fae4b"]},
                 "legend": {"orient": "none", "legendX": 45, "legendY": -16, "direction": "horizontal", "title": null, "symbolSize": 1024, "gridAlign": "all", "columnPadding": 17, "labelOffset": 3}}
             }}
          ]
        },
        {
          "width": 371, "height": 80,
          "layer": [
            {"data": {"name": "ddiv"}, "mark": {"type": "bar", "width": 1},
             "encoding": {
               "x": {"field": "i", "type": "quantitative", "title": null, "scale": {"domain": [0, 133], "nice": false, "zero": false}, "axis": null},
               "y": {"field": "d", "type": "quantitative", "title": null, "scale": {"domain": [-0.036, 0.036], "nice": false},
                     "axis": {"values": [-0.036, 0, 0.036], "format": ".4f", "grid": true, "gridOpacity": {"condition": {"test": "datum.value === 0", "value": 0}, "value": 1}, "minExtent": 80, "labelPadding": 8, "tickSize": 5, "labelFontSize": 12.5}},
               "y2": {"datum": 0},
               "fill": {"datum": "Divergence", "type": "nominal", "scale": {"domain": ["Divergence"], "range": ["#7a7a7a"]},
                 "legend": {"orient": "none", "legendX": 9, "legendY": 83, "title": null, "symbolType": "M-1,-0.22H1V0.22H-1Z", "symbolSize": 900, "symbolStrokeWidth": 0, "labelOffset": 4}}
             }},
            {"data": {"name": "dmacd"}, "transform": [{"fold": ["MACD", "MACD Signal Line"], "as": ["s", "v"]}, {"filter": "isValid(datum.v)"}],
             "mark": {"type": "line", "strokeWidth": 2},
             "encoding": {
               "x": {"field": "i", "type": "quantitative", "title": null},
               "y": {"field": "v", "type": "quantitative", "title": null},
               "color": {"field": "s", "type": "nominal", "scale": {"domain": ["MACD", "MACD Signal Line"], "range": ["#c8161d", "#1fae4b"]},
                 "legend": {"orient": "none", "legendX": 122, "legendY": 83, "direction": "horizontal", "title": null, "symbolSize": 900, "columnPadding": 11, "labelOffset": 3}}
             }}
          ]
        }
      ]
    },
    {
      "width": 412, "height": 200,
      "layer": [
        {"data": {"name": "rdlev"}, "mark": {"type": "rule", "strokeWidth": 2},
         "encoding": {
           "y": {"field": "v", "type": "quantitative", "title": null, "scale": {"domain": [1.585, 1.673], "nice": false, "zero": false},
                 "axis": {"values": [1.585,1.607,1.629,1.651,1.673], "format": ".4f", "minExtent": 111, "labelPadding": 10, "labelFontSize": 12.5}},
           "color": {"field": "s", "type": "nominal", "scale": {"domain": ["CLOSE", "R2", "R1", "S1", "S2"], "range": ["#2f7ebc", "#c3d69b", "#e6a5a5", "#b3a2c7", "#92cddc"]},
             "legend": {"orient": "none", "legendX": -24, "legendY": 249, "direction": "horizontal", "gridAlign": "all", "columnPadding": 15, "symbolSize": 900, "labelOffset": 4,
               "title": "Note: Support & Resistance Calculated based on 24 Hr Pivot Points", "titleOrient": "bottom", "titleAnchor": "start", "titleFontWeight": "normal", "titleFontSize": 13, "titleColor": "#404040", "titlePadding": 9, "titleLimit": 600}}
         }},
        {"data": {"name": "rdlev"}, "mark": {"type": "text", "align": "right", "baseline": "bottom", "dy": -3, "fontSize": 12.5, "color": "#404040"},
         "encoding": {
           "x": {"datum": 122, "type": "quantitative"},
           "y": {"field": "v", "type": "quantitative", "title": null},
           "text": {"field": "v", "type": "quantitative", "format": ".4f"}
         }},
        {"data": {"name": "rd"}, "mark": {"type": "line", "strokeWidth": 2.5},
         "encoding": {
           "x": {"field": "h", "type": "quantitative", "title": null, "scale": {"domain": [0, 124.4], "nice": false, "zero": false},
                 "axis": {"values": [0,20,40,60,80,100,120], "labelExpr": "[['26 Aug','0:00'],['26 Aug','20:00'],['29 Aug','16:00'],['30 Aug','12:00'],['31 Aug','8:00'],['1 Sep','4:00'],['2 Sep','0:00']][round(datum.value/20)]", "labelPadding": 12, "labelLineHeight": 15, "labelFontSize": 12.5}},
           "y": {"field": "c", "type": "quantitative", "title": null},
           "color": {"datum": "CLOSE", "type": "nominal"}
         }}
      ]
    }
  ]
},
{
  "width": 1024, "height": 2,
  "data": {"values": [{"a": 1}]},
  "mark": {"type": "rule", "color": "#a0a0a0", "strokeWidth": 1.5},
  "encoding": {"y": {"datum": 1, "type": "quantitative", "scale": {"domain": [0, 2]}, "axis": null}}
}
],
"columns": 1,
"spacing": 8,
"resolve": {"scale": {"color": "independent", "fill": "independent"}}
}
